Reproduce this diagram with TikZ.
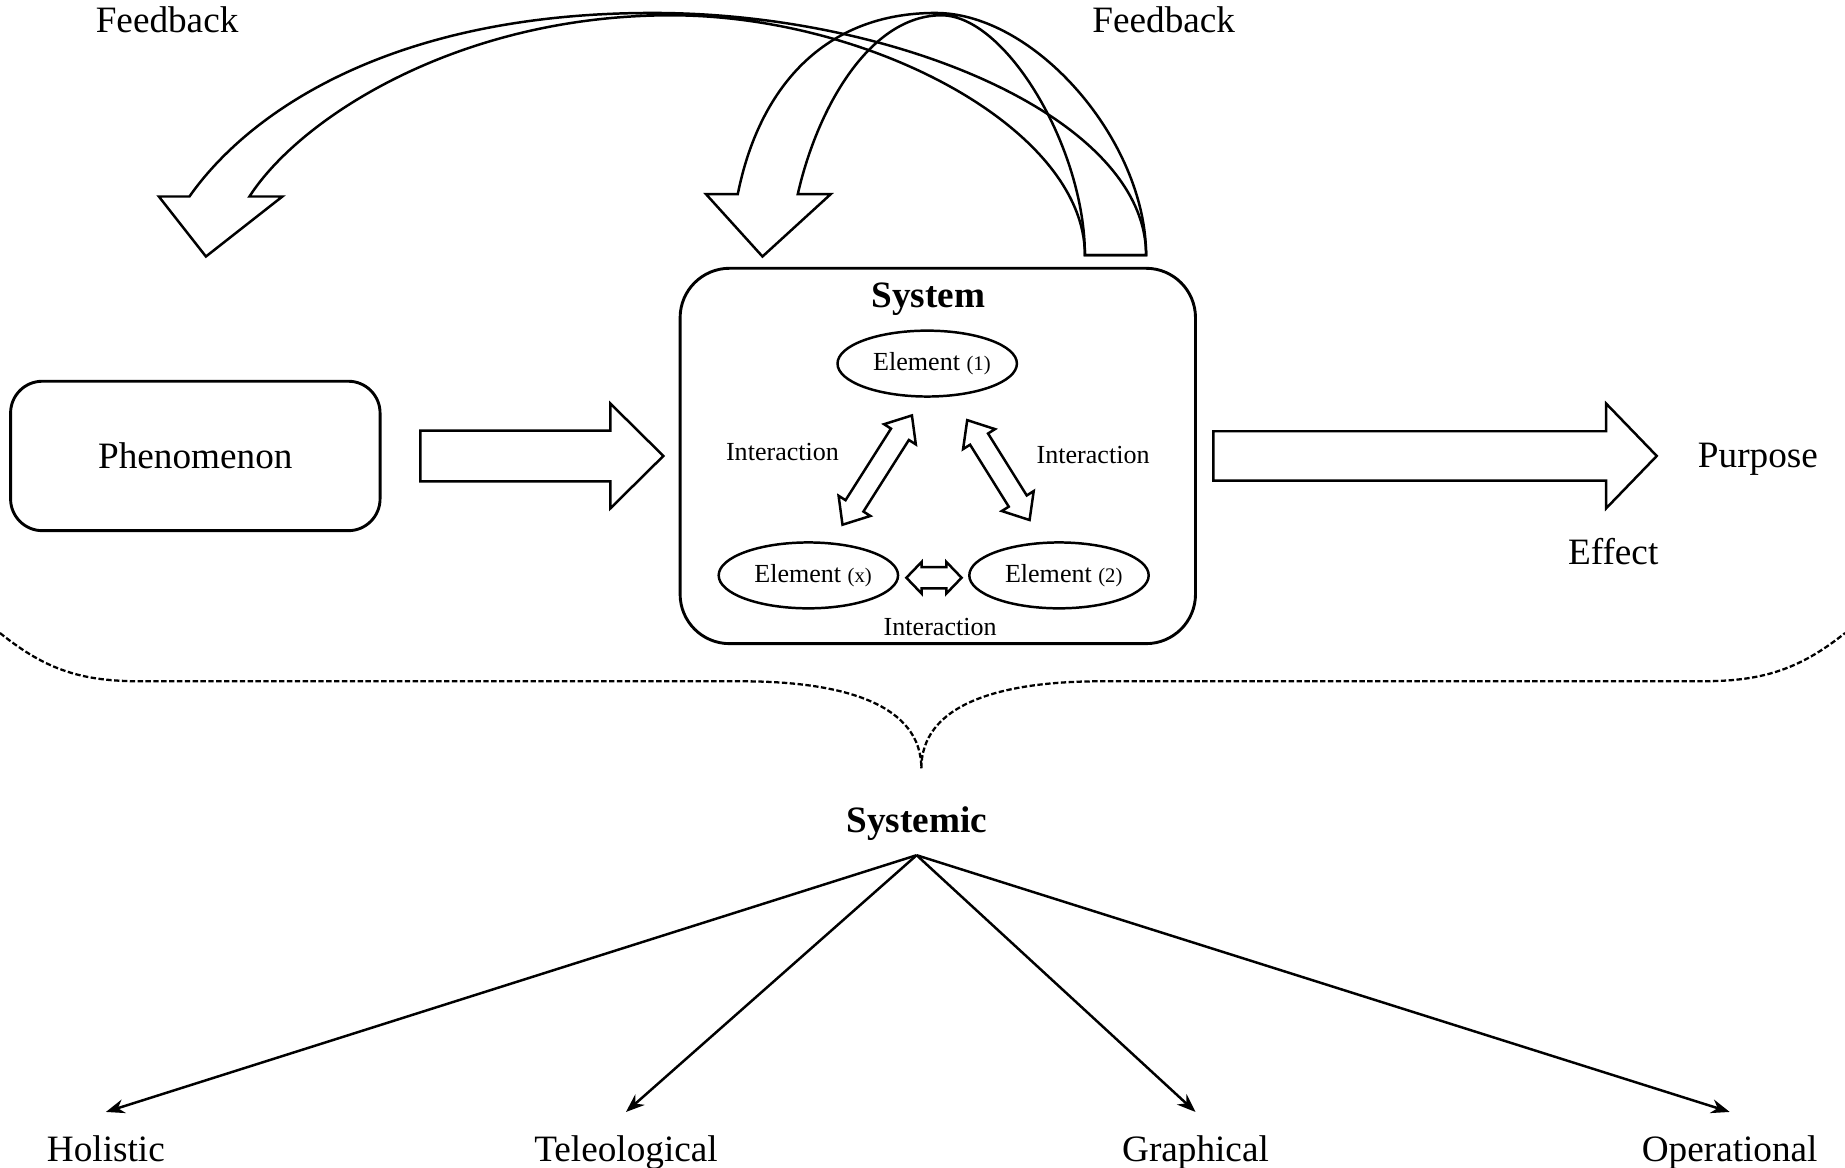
\documentclass[tikz,border=0pt]{standalone}
\usepackage{fontspec}
\setmainfont{Liberation Serif}
\usetikzlibrary{arrows.meta,calc,positioning,shapes.geometric}
\newcommand{\fsmain}{\fontsize{9}{11}\selectfont}
\newcommand{\fsint}{\fontsize{6.3}{7.5}\selectfont}
\newcommand{\fsidx}{\fontsize{5}{6}\selectfont}
% block arrow: from, to, shaft half width, head half width, head length
\newcommand{\blockarrow}[5]{%
  \coordinate (ba-h) at ($(#2)!#5!(#1)$);
  \draw[blk] ($(#1)!#3!90:(#2)$) -- ($(ba-h)!#3!-90:(#1)$) -- ($(ba-h)!#4!-90:(#1)$) -- (#2)
    -- ($(ba-h)!#4!90:(#1)$) -- ($(ba-h)!#3!90:(#1)$) -- ($(#1)!#3!-90:(#2)$) -- cycle;
}
% double block arrow, same arguments
\newcommand{\dblockarrow}[5]{%
  \coordinate (da-a) at ($(#1)!#5!(#2)$);
  \coordinate (da-b) at ($(#2)!#5!(#1)$);
  \draw[blk] (#1) -- ($(da-a)!#4!90:(#2)$) -- ($(da-a)!#3!90:(#2)$) -- ($(da-b)!#3!-90:(#1)$)
    -- ($(da-b)!#4!-90:(#1)$) -- (#2) -- ($(da-b)!#4!90:(#1)$) -- ($(da-b)!#3!90:(#1)$)
    -- ($(da-a)!#3!-90:(#2)$) -- ($(da-a)!#4!-90:(#2)$) -- cycle;
}

\begin{document}
\begin{tikzpicture}[
  blk/.style={draw, line width=0.6pt, line join=miter},
  box/.style={draw, line width=0.7pt, font=\fsmain},
  elem/.style={draw, ellipse, line width=0.6pt, minimum height=0.56cm, inner sep=0pt, font=\fsint},
  txt/.style={font=\fsmain},
  inter/.style={font=\fsint},
  leaf/.style={font=\fsmain, anchor=north, text height=0.22cm, text depth=0.07cm, inner xsep=0pt, inner ysep=0.19cm},
  fan/.style={line width=0.6pt, -{Stealth[length=4.5pt,width=3.4pt]}},
  dashbrace/.style={line width=0.55pt, dash pattern=on 1.3pt off 0.6pt}
]
\useasboundingbox (0,0) rectangle (15.68,9.92);

% Phenomenon, system and purpose
\node[box, rounded corners=0.27cm, minimum width=3.14cm, minimum height=1.27cm] (phen) at (1.66,6.045) {Phenomenon};
\node[box, rounded corners=0.42cm, minimum width=4.38cm, minimum height=3.19cm] (system) at (7.97,6.045) {};
\node[txt, font=\fsmain\bfseries] (syslbl) at (7.89,7.38) {System};
\node[txt] (purp) at (14.94,6.015) {Purpose};
\node[txt] (effect) at (13.71,5.23) {Effect};

% Elements inside the system
\node[elem, minimum width=1.48cm] (e1) at (7.88,6.83) {\hspace{0.08cm}Element {\fsidx(1)}};
\node[elem, minimum width=1.50cm] (ex) at (6.87,5.03) {\hspace{0.08cm}Element {\fsidx(x)}};
\node[elem, minimum width=1.49cm] (e2) at (9.00,5.03) {\hspace{0.08cm}Element {\fsidx(2)}};
\node[inter] (int1) at (6.65,6.08) {Interaction};
\node[inter] (int2) at (9.29,6.05) {Interaction};
\node[inter] (int3) at (7.99,4.59) {Interaction};

% Interaction arrows
\coordinate (d1a) at ($(ex.north)+(0.29,0.14)$);
\coordinate (d1b) at ($(e1.south)+(-0.13,-0.15)$);
\coordinate (d2a) at ($(e2.north)+(-0.25,0.18)$);
\coordinate (d2b) at ($(e1.south)+(0.34,-0.19)$);
\coordinate (d3a) at ($(ex.east)+(0.06,-0.02)$);
\coordinate (d3b) at ($(e2.west)+(-0.055,-0.02)$);
\dblockarrow{d1a}{d1b}{0.09cm}{0.16cm}{0.19cm}
\dblockarrow{d2a}{d2b}{0.09cm}{0.16cm}{0.19cm}
\dblockarrow{d3a}{d3b}{0.09cm}{0.135cm}{0.13cm}

% Input and output arrows
\coordinate (a1s) at ($(phen.east)+(0.33,0)$);
\coordinate (a1e) at ($(system.west)+(-0.13,0)$);
\coordinate (a2s) at ($(system.east)+(0.14,0)$);
\coordinate (a2e) at (14.08,6.045);
\blockarrow{a1s}{a1e}{0.215cm}{0.445cm}{0.45cm}
\blockarrow{a2s}{a2e}{0.21cm}{0.445cm}{0.43cm}

% Feedback arrows
\node[txt] (fb1) at (1.42,9.75) {Feedback};
\node[txt] (fb2) at (9.89,9.75) {Feedback};
\coordinate (fbl) at ($(system.north)+(1.25,0.10)$);
\coordinate (fbr) at ($(system.north)+(1.77,0.10)$);
\draw[blk] (1.35,8.25) -- (1.75,7.74) -- (2.40,8.25) -- (2.12,8.25)
  .. controls (2.55,8.92) and (3.90,9.79) .. (5.70,9.79)
  .. controls (7.40,9.79) and (9.22,8.82) .. (fbl) -- (fbr)
  .. controls (9.74,8.92) and (7.60,9.81) .. (5.55,9.81)
  .. controls (3.30,9.81) and (2.10,8.95) .. (1.61,8.25) -- cycle;
\draw[blk] (6.00,8.27) -- (6.48,7.74) -- (7.06,8.27) -- (6.78,8.27)
  .. controls (6.95,9.02) and (7.40,9.79) .. (8.00,9.79)
  .. controls (8.55,9.79) and (9.22,8.66) .. (fbl) -- (fbr)
  .. controls (9.74,8.72) and (8.80,9.81) .. (7.95,9.81)
  .. controls (7.00,9.81) and (6.45,9.17) .. (6.27,8.27) -- cycle;

% Dashed brace
\draw[dashbrace] (0,4.54) .. controls (0.40,4.22) and (0.70,4.13) .. (1.20,4.13) -- (6.30,4.13)
  .. controls (7.20,4.13) and (7.83,3.92) .. (7.83,3.39)
  .. controls (7.83,3.92) and (8.46,4.13) .. (9.36,4.13) -- (14.46,4.13)
  .. controls (14.96,4.13) and (15.28,4.22) .. (15.68,4.54);

% Systemic approaches
\node[txt, font=\fsmain\bfseries] (systemic) at (7.79,2.92) {Systemic};
\node[leaf] (hol) at (0.90,0.47) {Holistic};
\node[leaf] (tel) at (5.32,0.47) {Teleological};
\node[leaf] (gra) at (10.16,0.47) {Graphical};
\node[leaf] (ope) at (14.70,0.47) {Operational};
\foreach \leafname in {hol,tel,gra,ope}
  \draw[fan] (systemic.south) -- (\leafname.north);
\end{tikzpicture}
\end{document}
